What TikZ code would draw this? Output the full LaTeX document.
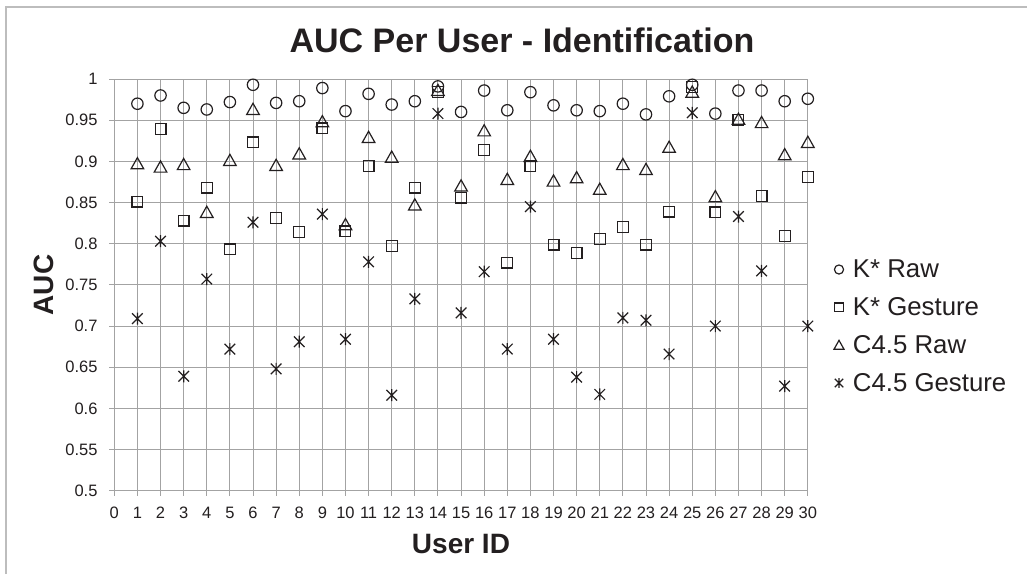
\documentclass[tikz,border=0pt]{standalone}
\usepackage{fontspec}
\setmainfont{Liberation Sans}
\definecolor{ink}{HTML}{231F20}
\definecolor{gridc}{HTML}{A3A3A3}
\definecolor{framec}{HTML}{BDBDBD}
\tikzset{
  mk/.style={draw=ink, line width=1.2pt},
  gridline/.style={draw=gridc, line width=0.9pt},
  ticklab/.style={inner sep=0pt, text=ink, font=\fontsize{16.5}{18}\selectfont},
  axtitle/.style={inner sep=0pt, text=ink, font=\fontsize{28}{30}\selectfont\bfseries},
  legtext/.style={inner sep=0pt, text=ink, font=\fontsize{25.8}{28}\selectfont, anchor=base west},
  pics/kraw/.style={code={\draw[mk] (0pt,0pt) circle[radius=5.7pt];}},
  pics/kges/.style={code={\draw[mk] (-5.4pt,-5.4pt) rectangle (5.4pt,5.4pt);}},
  pics/craw/.style={code={\draw[mk,line join=miter] (-6.3pt,-5pt) -- (6.3pt,-5pt) -- (0pt,6.2pt) -- cycle;}},
  pics/cges/.style={code={\draw[mk] (-5.3pt,-5.3pt) -- (5.3pt,5.3pt) (-5.3pt,5.3pt) -- (5.3pt,-5.3pt) (0pt,-6pt) -- (0pt,6pt);}}
}
\begin{document}
\begin{tikzpicture}[x=1pt,y=-1pt]
\useasboundingbox (0,0) rectangle (1027,574);
\fill[white] (0,0) rectangle (1027,574);
% chart frame (only left and top edges visible)
\draw[framec, line width=1.3pt] (6,574) -- (6,7) -- (1027,7);
% title
\node[inner sep=0pt, text=ink, anchor=base, font=\fontsize{34}{36}\selectfont\bfseries] (title) at (522,52) {AUC Per User - Identification};
% axis titles
\node[axtitle, anchor=base] (xtitle) at (461,553) {User ID};
\node[axtitle, rotate=90] (ytitle) at (43.5,285) {AUC};
% plot area in data coordinates
\begin{scope}[shift={(114.3,902.4)}, x=23.117pt, y=823.4pt]
  \foreach \u in {0,...,30} {
    \draw[gridline] (\u,0.5) -- (\u,1);
    \draw[gridline] (\u,0.5) -- ++(0pt,-5pt);
    \node[ticklab, anchor=base] (xl\u) at ([yshift=-27.3pt]\u,0.5) {\u};
  }
  \foreach \v/\t in {0.5/0.5,0.55/0.55,0.6/0.6,0.65/0.65,0.7/0.7,0.75/0.75,0.8/0.8,0.85/0.85,0.9/0.9,0.95/0.95,1/1} {
    \draw[gridline] (0,\v) -- (30,\v);
    \draw[gridline] (0,\v) -- ++(-5pt,0pt);
    \node[ticklab, anchor=east] at ([xshift=-16.6pt]0,\v) {\t};
  }
  \foreach \u/\a/\b/\c/\d in {
    1/0.970/0.851/0.897/0.709, 2/0.980/0.939/0.893/0.803, 3/0.965/0.828/0.896/0.639,
    4/0.963/0.868/0.838/0.757, 5/0.972/0.793/0.901/0.672, 6/0.993/0.923/0.963/0.826,
    7/0.971/0.831/0.895/0.648, 8/0.973/0.814/0.909/0.681, 9/0.989/0.940/0.948/0.836,
    10/0.961/0.815/0.823/0.684, 11/0.982/0.894/0.929/0.778, 12/0.969/0.797/0.905/0.616,
    13/0.973/0.868/0.847/0.733, 14/0.991/0.984/0.986/0.958, 15/0.960/0.856/0.870/0.716,
    16/0.986/0.914/0.937/0.766, 17/0.962/0.777/0.878/0.672, 18/0.984/0.894/0.906/0.845,
    19/0.968/0.799/0.876/0.684, 20/0.962/0.789/0.880/0.638, 21/0.961/0.806/0.866/0.617,
    22/0.970/0.820/0.896/0.710, 23/0.957/0.799/0.890/0.707, 24/0.979/0.839/0.917/0.666,
    25/0.993/0.990/0.984/0.959, 26/0.958/0.838/0.857/0.700, 27/0.986/0.950/0.951/0.833,
    28/0.986/0.858/0.947/0.767, 29/0.973/0.809/0.908/0.627, 30/0.976/0.881/0.923/0.700} {
    \pic at (\u,\a) {kraw};
    \pic at (\u,\b) {kges};
    \pic at (\u,\c) {craw};
    \pic at (\u,\d) {cges};
  }
\end{scope}
% legend
\pic[scale=0.8] at (839,269.5) {kraw};
\pic[scale=0.8] at (839,307.3) {kges};
\pic[scale=0.8] at (839,345.3) {craw};
\pic[scale=0.8] at (839,383) {cges};
\node[legtext] (l1) at (852.7,277.7) {K* Raw};
\node[legtext] (l2) at (852.7,315.3) {K* Gesture};
\node[legtext] (l3) at (852.7,353.3) {C4.5 Raw};
\node[legtext] (l4) at (852.7,391) {C4.5 Gesture};
\end{tikzpicture}
\end{document}
